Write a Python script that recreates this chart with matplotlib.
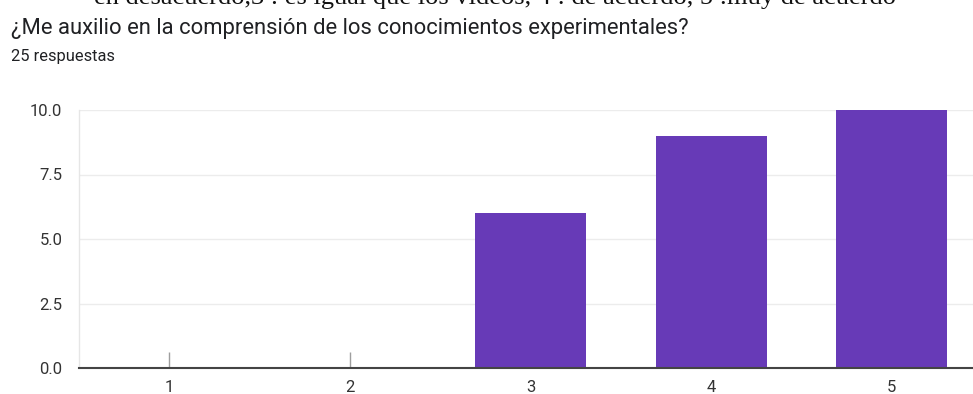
import matplotlib
matplotlib.use("Agg")
import matplotlib.pyplot as plt
import matplotlib.transforms as mtransforms

categories = ["1", "2", "3", "4", "5"]
values = [0, 0, 6, 9, 10]
yticks = [0.0, 2.5, 5.0, 7.5, 10.0]
ytick_labels = ["0.0", "2.5", "5.0", "7.5", "10.0"]
header = "en desacuerdo,3 : es igual que los videos, 4 : de acuerdo, 5 :muy de acuerdo"
title = "¿Me auxilio en la comprensión de los conocimientos experimentales?"
subtitle = "25 respuestas"

W, H = 973, 394
fig = plt.figure(figsize=(W / 100, H / 100), dpi=100)
fig.patch.set_facecolor("white")
ax = fig.add_axes([79 / W, 1 - 368 / H, (982 - 79) / W, (368 - 110) / H])

x = list(range(1, len(categories) + 1))
bar_color = "#673ab7"
ax.bar(x, values, width=0.615, color=bar_color, zorder=3)

# zero-value markers
trans = mtransforms.blended_transform_factory(ax.transData, ax.transAxes)
zx = [xi for xi, v in zip(x, values) if v == 0]
ax.vlines(zx, 0, 0.062, transform=trans, colors="#9e9e9e", linewidth=1, zorder=4)

ax.set_xlim(0.5, len(categories) + 0.5)
ax.set_ylim(0, 10)
ax.set_yticks(yticks)
ax.set_yticklabels(ytick_labels)
ax.set_xticks(x)
ax.set_xticklabels(categories)
ax.grid(axis="y", color="#ececec", linewidth=1, zorder=0)
ax.set_axisbelow(True)
for s in ["top", "right"]:
    ax.spines[s].set_visible(False)
ax.spines["left"].set_color("#e6e6e6")
ax.spines["left"].set_linewidth(1)
ax.spines["bottom"].set_color("#444444")
ax.spines["bottom"].set_linewidth(1.5)
ax.spines["bottom"].set_zorder(5)
ax.tick_params(axis="both", length=0, labelsize=12, colors="#333333",
               labelfontfamily="Roboto")
ax.tick_params(axis="y", pad=12)
ax.tick_params(axis="x", pad=9)

fig.text(94 / W, 1 - 4 / H, header, fontsize=19, family="Liberation Serif",
         color="#111111", va="baseline", ha="left")
fig.text(11 / W, 1 - 34 / H, title, fontsize=15.8, family="Roboto",
         color="#202124", va="baseline", ha="left")
fig.text(11 / W, 1 - 61 / H, subtitle, fontsize=11.8, family="Roboto",
         color="#202124", va="baseline", ha="left")

fig.savefig("out.png", dpi=100, facecolor="white")
